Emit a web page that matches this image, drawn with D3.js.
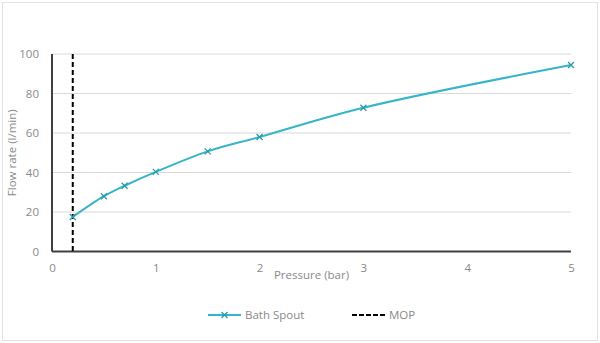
<!DOCTYPE html>
<html>
<head>
<meta charset="utf-8">
<script src="https://cdn.jsdelivr.net/npm/d3@7/dist/d3.min.js"></script>
<style>
  html, body { margin: 0; padding: 0; background: #fff; }
  svg { display: block; font-family: "Open Sans", "Liberation Sans", sans-serif; }
</style>
</head>
<body>
<svg id="chart" width="600" height="343"></svg>
<script>
// Flow rate of the bath spout at each test pressure
const pressures = [0.2, 0.5, 0.7, 1, 1.5, 2, 3, 5];
const flowRates = [17.5, 28, 33.3, 40.3, 50.7, 58, 72.8, 94.4];
// Minimum operating pressure (bar)
const mop = 0.2;
const xTicks = [0, 1, 2, 3, 4, 5];
const yTicks = [0, 20, 40, 60, 80, 100];
const seriesNames = ["Bath Spout", "MOP"];

const svg = d3.select("#chart");
const W = 600, H = 343;
const m = { left: 52, right: 29, top: 54, bottom: 91.5 };
const textColor = "#898989";

// light frame around the chart area
svg.append("rect")
  .attr("x", 2.5).attr("y", 2.5)
  .attr("width", W - 5).attr("height", H - 5)
  .attr("fill", "#fff").attr("stroke", "#e3e3e3").attr("stroke-width", 1);

const x = d3.scaleLinear().domain([0, 5]).range([m.left, W - m.right]);
const y = d3.scaleLinear().domain([0, 100]).range([H - m.bottom, m.top]);

// horizontal gridlines
svg.append("g")
  .selectAll("line")
  .data(yTicks.filter(d => d > 0))
  .join("line")
  .attr("x1", x(0)).attr("x2", x(5))
  .attr("y1", d => y(d)).attr("y2", d => y(d))
  .attr("stroke", "#d9d9d9").attr("stroke-width", 1);

// axes
const yAxis = svg.append("g")
  .attr("transform", `translate(${x(0)},0)`)
  .call(d3.axisLeft(y).tickValues(yTicks).tickFormat(d3.format("d")).tickSize(0).tickPadding(13));
const xAxis = svg.append("g")
  .attr("transform", `translate(0,${y(0)})`)
  .call(d3.axisBottom(x).tickValues(xTicks).tickFormat(d3.format("d")).tickSize(0).tickPadding(12));

[yAxis, xAxis].forEach(g => {
  g.select(".domain").attr("stroke", "#404040").attr("stroke-width", 2);
  g.selectAll("text").attr("fill", textColor).attr("font-size", 11.5)
    .attr("font-family", "'Open Sans', sans-serif");
});
yAxis.select(".domain").attr("d", `M0,${y(100)}V${y(0)}`);
xAxis.select(".domain").attr("d", `M${x(0)},0H${x(5)}`);

// axis titles
svg.append("text")
  .attr("transform", `translate(16,${(y(0) + y(100)) / 2}) rotate(-90)`)
  .attr("text-anchor", "middle")
  .attr("fill", textColor).attr("font-size", 11.5)
  .text("Flow rate (l/min)");
svg.append("text")
  .attr("x", (x(0) + x(5)) / 2).attr("y", 279)
  .attr("text-anchor", "middle")
  .attr("fill", textColor).attr("font-size", 11.5)
  .text("Pressure (bar)");

// MOP reference line
svg.append("line")
  .attr("x1", x(mop)).attr("x2", x(mop))
  .attr("y1", y(100)).attr("y2", y(0))
  .attr("stroke", "#000").attr("stroke-width", 2)
  .attr("stroke-dasharray", "5,3");

// bath spout curve
const pts = pressures.map((p, i) => [p, flowRates[i]]);
const lineColor = "#36b4c8";
svg.append("path")
  .datum(pts)
  .attr("fill", "none")
  .attr("stroke", lineColor)
  .attr("stroke-width", 2)
  .attr("d", d3.line().x(d => x(d[0])).y(d => y(d[1])).curve(d3.curveCatmullRom.alpha(0.5)));

// x markers
const markerColor = "#2a9aaa";
function cross(g, cx, cy, s) {
  g.append("path")
    .attr("d", `M${cx - s},${cy - s}L${cx + s},${cy + s}M${cx - s},${cy + s}L${cx + s},${cy - s}`)
    .attr("stroke", markerColor).attr("stroke-width", 1.3).attr("fill", "none");
}
const mk = svg.append("g");
pts.forEach(d => cross(mk, x(d[0]), y(d[1]), 3));

// legend
const ly = 315;
const lg = svg.append("g");
lg.append("line").attr("x1", 208).attr("x2", 241).attr("y1", ly).attr("y2", ly)
  .attr("stroke", lineColor).attr("stroke-width", 2);
cross(lg, 224.5, ly, 3);
lg.append("text").attr("x", 245).attr("y", ly + 4)
  .attr("fill", textColor).attr("font-size", 11.5).text(seriesNames[0]);
lg.append("line").attr("x1", 352).attr("x2", 386).attr("y1", ly).attr("y2", ly)
  .attr("stroke", "#000").attr("stroke-width", 2).attr("stroke-dasharray", "5,2");
lg.append("text").attr("x", 389).attr("y", ly + 4)
  .attr("fill", textColor).attr("font-size", 11.5).text(seriesNames[1]);
</script>
</body>
</html>
